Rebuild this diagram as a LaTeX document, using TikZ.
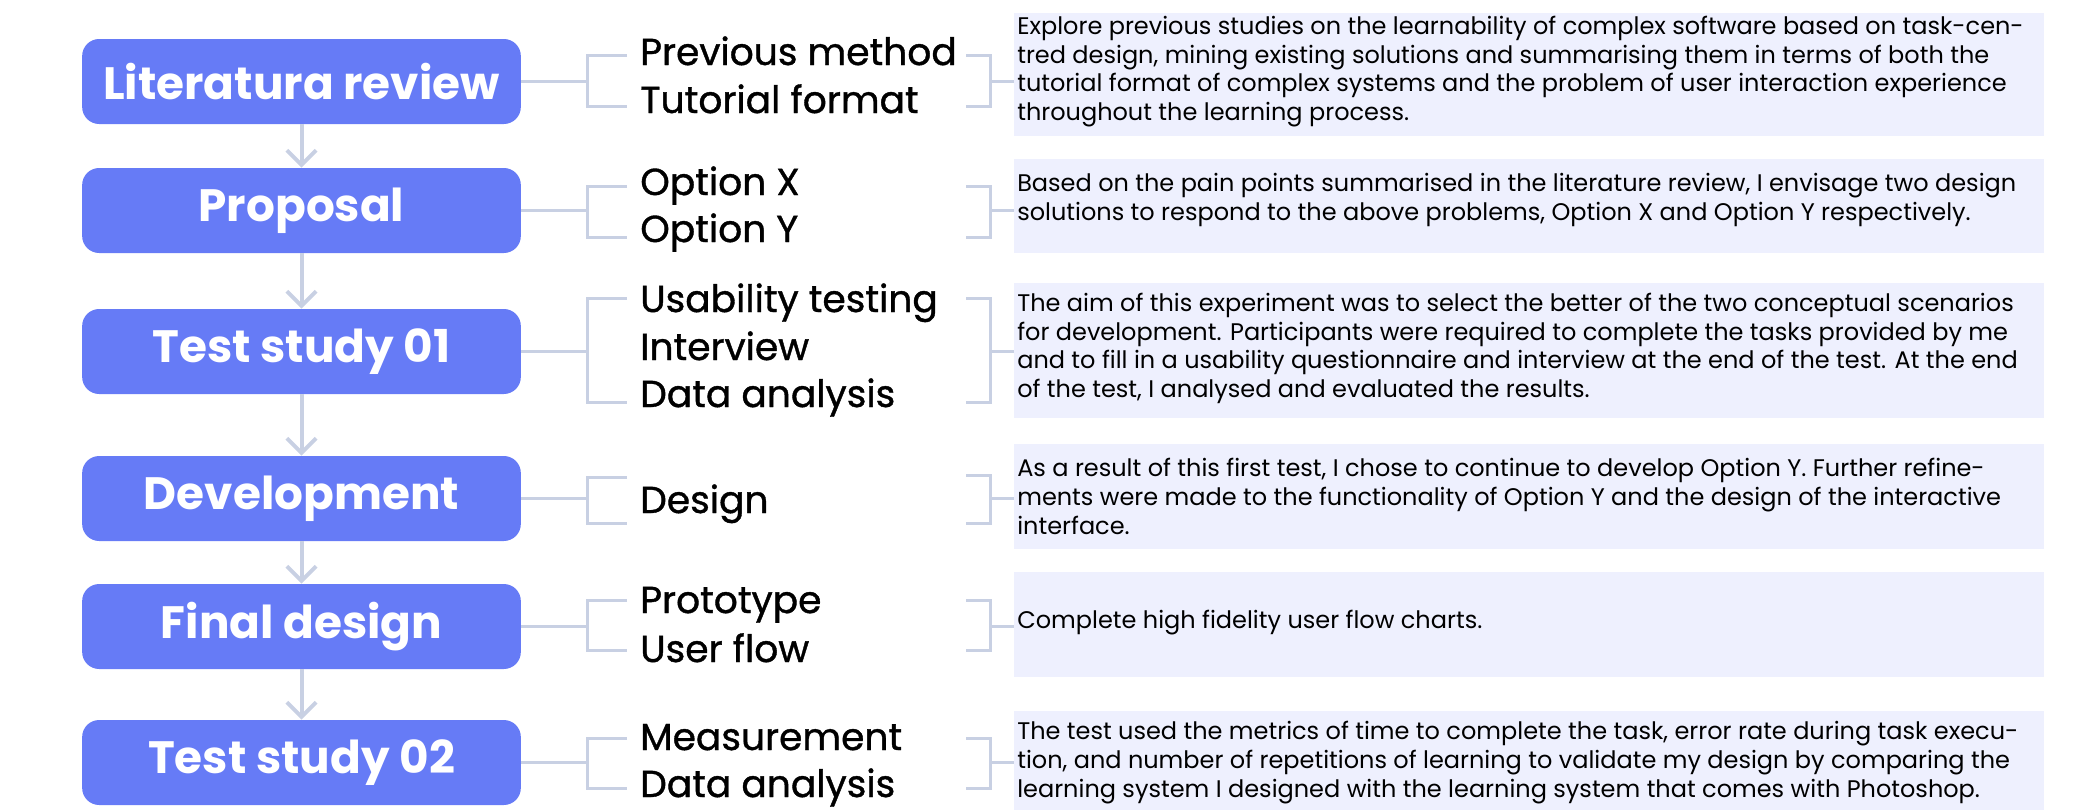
\documentclass[tikz,border=0pt]{standalone}
\usepackage{fontspec}
\setmainfont{Poppins}
\newfontfamily\itemfont[FakeBold=1]{Poppins}
\usetikzlibrary{arrows.meta}

\definecolor{stageblue}{RGB}{102,123,246}
\definecolor{linkgrey}{RGB}{200,208,227}
\definecolor{notefill}{RGB}{238,240,254}

\tikzset{
  stage/.style={fill=stageblue, rounded corners=12.75pt, minimum width=329pt,
    minimum height=63.75pt, inner sep=0pt, text=white,
    font=\fontsize{34}{40}\selectfont\bfseries},
  item/.style={anchor=base west, inner sep=0pt, font=\itemfont\fontsize{28.2}{32}\selectfont},
  note/.style={fill=notefill, anchor=north west, minimum width=772.5pt, inner sep=0pt},
  notetext/.style={anchor=base west, inner sep=0pt, align=left,
    font=\fontsize{18}{21.4}\selectfont},
  link/.style={draw=linkgrey, line width=2.25pt},
  flow/.style={draw=linkgrey, line width=3pt, -{Straight Barb[length=11pt,width=22pt]}},
}

\begin{document}
\begin{tikzpicture}[x=0.75pt,y=0.75pt,yscale=-1,xscale=1]
        \useasboundingbox (0,0) rectangle (2073,810);

        %Shape: Stages
        \node[stage] (lit) at (301.5,81.5) {Literatura review};
        \node[stage] (prop) at (301.5,210.5) {Proposal};
        \node[stage] (testa) at (301.5,351.5) {Test study 01};
        \node[stage] (dev) at (301.5,498.5) {Development};
        \node[stage] (final) at (301.5,626.5) {Final design};
        \node[stage] (testb) at (301.5,762.5) {Test study 02};

        %Straight Lines: flow
        \draw[flow] (lit) -- (prop);
        \draw[flow] (prop) -- (testa);
        \draw[flow] (testa) -- (dev);
        \draw[flow] (dev) -- (final);
        \draw[flow] (final) -- (testb);

        %Shape: Note boxes
        \node[note, minimum height=92.25pt] (notea) at (1014,13) {};
        \node[note, minimum height=70.5pt] (noteb) at (1014,159) {};
        \node[note, minimum height=101.25pt] (notec) at (1014,283) {};
        \node[note, minimum height=78.75pt] (noted) at (1014,444) {};
        \node[note, minimum height=78.75pt] (notee) at (1014,572) {};
        \node[note, minimum height=74.25pt] (notef) at (1014,711) {};

        % Bracket points
        \coordinate (litL) at (587,81.5);   \coordinate (litR) at (990,81.5);
        \coordinate (propL) at (587,210.5); \coordinate (propR) at (990,210.5);
        \coordinate (testaL) at (587,351.5); \coordinate (testaR) at (990,351.5);
        \coordinate (devL) at (587,498.5);  \coordinate (devR) at (990,498.5);
        \coordinate (finalL) at (587,626.5); \coordinate (finalR) at (990,626.5);
        \coordinate (testbL) at (587,762.5); \coordinate (testbR) at (990,762.5);

        %Straight Lines: brackets
        \draw[link] (lit) -- (litL);
        \draw[link] (627,55) -| (587,106) -- (627,106);
        \draw[link] (966,55) -| (990,106) -- (966,106);
        \draw[link] (litR) -- (litR -| notea.west);

        \draw[link] (prop) -- (propL);
        \draw[link] (627,186) -| (587,237) -- (627,237);
        \draw[link] (966,186) -| (990,237) -- (966,237);
        \draw[link] (propR) -- (propR -| noteb.west);

        \draw[link] (testa) -- (testaL);
        \draw[link] (627,298) -| (587,402) -- (627,402);
        \draw[link] (966,298) -| (990,402) -- (966,402);
        \draw[link] (testaR) -- (testaR -| notec.west);

        \draw[link] (dev) -- (devL);
        \draw[link] (627,477) -| (587,523) -- (627,523);
        \draw[link] (966,475) -| (990,523) -- (966,523);
        \draw[link] (devR) -- (devR -| noted.west);

        \draw[link] (final) -- (finalL);
        \draw[link] (627,600) -| (587,650) -- (627,650);
        \draw[link] (966,600) -| (990,650) -- (966,650);
        \draw[link] (finalR) -- (finalR -| notee.west);

        \draw[link] (testb) -- (testbL);
        \draw[link] (627,738) -| (587,788) -- (627,788);
        \draw[link] (966,738) -| (990,788) -- (966,788);
        \draw[link] (testbR) -- (testbR -| notef.west);

        % Text Node: items
        \node[item] (lita) at (640,65) {Previous method};
        \node[item] (litb) at (640,113) {Tutorial format};
        \node[item] (propa) at (640,195) {Option X};
        \node[item] (propb) at (640,242) {Option Y};
        \node[item] (testaa) at (640,312) {Usability testing};
        \node[item] (testab) at (640,360) {Interview};
        \node[item] (testac) at (640,407) {Data analysis};
        \node[item] (deva) at (640,513) {Design};
        \node[item] (finala) at (640,613) {Prototype};
        \node[item] (finalb) at (640,662) {User flow};
        \node[item] (testba) at (640,750) {Measurement};
        \node[item] (testbb) at (640,797) {Data analysis};

        % Text Node: notes (placed at the baseline of their last line)
        \node[notetext] (texta) at (1017,120.5) {Explore previous studies on the learnability of complex software based on task-cen-\\tred design, mining existing solutions and summarising them in terms of both the\\tutorial format of complex systems and the problem of user interaction experience\\throughout the learning process.};
        \node[notetext] (textb) at (1017,220.5) {Based on the pain points summarised in the literature review, I envisage two design\\solutions to respond to the above problems, Option X and Option Y respectively.};
        \node[notetext] (textc) at (1017,397.5) {The aim of this experiment was to select the better of the two conceptual scenarios\\for development. Participants were required to complete the tasks provided by me\\and to fill in a usability questionnaire and interview at the end of the test. At the end\\of the test, I analysed and evaluated the results.};
        \node[notetext] (textd) at (1017,534) {As a result of this first test, I chose to continue to develop Option Y. Further refine-\\ments were made to the functionality of Option Y and the design of the interactive\\interface.};
        \node[notetext] (texte) at (1017,628) {Complete high fidelity user flow charts.};
        \node[notetext] (textf) at (1017,797) {The test used the metrics of time to complete the task, error rate during task execu-\\tion, and number of repetitions of learning to validate my design by comparing the\\learning system I designed with the learning system that comes with Photoshop.};

\end{tikzpicture}
\end{document}
